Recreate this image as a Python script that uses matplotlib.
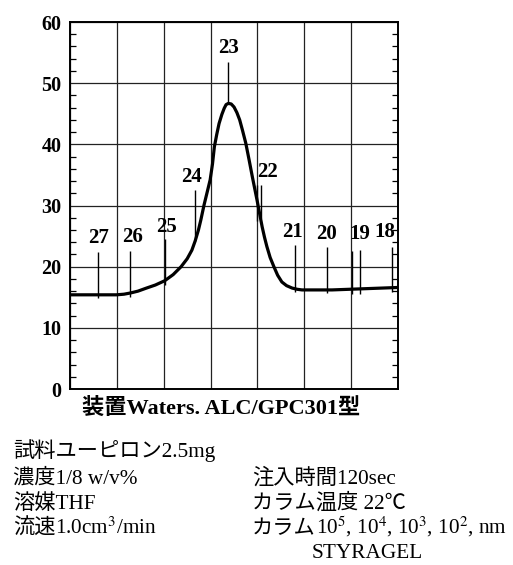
import matplotlib
matplotlib.use("Agg")
import matplotlib.pyplot as plt
from matplotlib.ticker import MultipleLocator

# GPC trace (x in chart-grid units, y = detector signal)
trace_x = [0.0, 0.99, 1.15, 1.29, 1.45, 1.63, 1.82, 2.02, 2.20, 2.37, 2.50, 2.60,
           2.67, 2.74, 2.79, 2.86, 2.93, 2.99, 3.04, 3.08, 3.13, 3.18, 3.24, 3.29,
           3.33, 3.38, 3.44, 3.50, 3.56, 3.62, 3.68, 3.75, 3.82, 3.89, 3.94, 3.99,
           4.05, 4.10, 4.15, 4.20, 4.27, 4.35, 4.43, 4.52, 4.62, 4.74, 4.85, 4.95,
           5.59, 7.0]
trace_y = [15.4, 15.4, 15.5, 15.7, 16.0, 16.5, 17.0, 17.7, 18.7, 20.0, 21.3, 22.7,
           24.2, 26.0, 27.6, 30.1, 32.3, 34.2, 36.8, 39.6, 41.6, 43.4, 44.9, 45.9,
           46.5, 46.7, 46.6, 46.1, 45.2, 44.0, 42.3, 40.2, 37.5, 34.7, 32.8, 30.9,
           28.5, 26.5, 24.8, 23.3, 21.5, 20.0, 18.6, 17.5, 16.9, 16.5, 16.3, 16.2,
           16.2, 16.6]

# elution count marks
count_labels = ["27", "26", "25", "24", "23", "22", "21", "20", "19", "18"]
count_x = [0.60, 1.29, 2.02, 2.67, 3.38, 3.99, 4.79, 5.49, 6.02, 6.88]
count_top = [22.4, 22.6, 24.5, 32.5, 53.5, 33.3, 23.5, 23.2, 22.6, 23.2]
count_bottom = [14.9, 15.1, 17.0, 24.2, 46.7, 27.5, 15.8, 15.7, 15.6, 15.9]
label_x = [0.60, 1.34, 2.05, 2.60, 3.38, 4.21, 4.74, 5.48, 6.19, 6.72]
label_y = [24.7, 24.9, 26.5, 34.7, 55.8, 35.5, 25.6, 25.3, 25.3, 25.7]
# second tick beside 22 and 19
extra_x = [4.08, 6.19]
extra_top = [33.3, 22.8]
extra_bottom = [28.0, 15.5]

serif_jp = ["Liberation Serif", "Noto Sans CJK JP"]
plt.rcParams["mathtext.fontset"] = "stix"

fig = plt.figure(figsize=(5.13, 5.65), dpi=100)
ax = fig.add_axes([0.1365, 0.3115, 0.6395, 0.6495])

ax.set_xlim(0, 7)
ax.set_ylim(0, 60)
ax.xaxis.set_major_locator(MultipleLocator(1))
ax.yaxis.set_major_locator(MultipleLocator(10))
ax.yaxis.set_minor_locator(MultipleLocator(2))
ax.grid(True, which="major", color="#222222", lw=0.9)
ax.tick_params(axis="x", which="both", length=0, labelbottom=False)
ax.tick_params(axis="y", which="major", length=0, pad=6)
ax.tick_params(axis="y", which="minor", direction="in", length=4, width=0.9,
               left=True, right=True)
for lbl in ax.get_yticklabels():
    lbl.set_fontfamily("Liberation Serif")
    lbl.set_fontweight("bold")
    lbl.set_fontsize(14.5)
for sp in ax.spines.values():
    sp.set_linewidth(1.4)
    sp.set_color("black")

ax.plot(trace_x, trace_y, color="black", lw=2.3, solid_capstyle="round",
        solid_joinstyle="round", zorder=3)

ax.vlines(count_x, count_bottom, count_top, color="black", lw=1.0, zorder=4)
ax.vlines(extra_x, extra_bottom, extra_top, color="black", lw=1.0, zorder=4)
for t, lx, ly in zip(count_labels, label_x, label_y):
    ax.text(lx, ly, t, ha="center", va="center", fontsize=15, fontweight="bold",
            family="Liberation Serif", zorder=5)

fig.text(0.431, 0.278, "装置Waters. ALC/GPC301型", ha="center", va="center",
         fontsize=16, fontweight="bold", family=serif_jp)

renderer = fig.canvas.get_renderer()


def line_of_text(x, y, parts, size=15.3):
    # draw a row piece by piece so CJK text and mathtext superscripts can mix
    for part in parts:
        t = fig.text(x, y, part, ha="left", va="baseline", fontsize=size,
                     family=serif_jp)
        bb = t.get_window_extent(renderer=renderer)
        x += bb.width / fig.bbox.width


left_lines = [["試料ユーピロン2.5mg"], ["濃度1/8 w/v%"], ["溶媒THF"],
              ["流速", "1.0cm$^{3}$/min"]]
left_y = [0.192, 0.144, 0.099, 0.055]
for parts, y in zip(left_lines, left_y):
    line_of_text(0.025, y, parts)

right_lines = [["注入時間120sec"], ["カラム温度 22℃"],
               ["カラム", "10$^{5}$, 10$^{4}$, 10$^{3}$, 10$^{2}$, nm"]]
right_y = [0.144, 0.099, 0.055]
for parts, y in zip(right_lines, right_y):
    line_of_text(0.491, y, parts)
line_of_text(0.608, 0.013, ["STYRAGEL"])

fig.savefig("out.png", dpi=100)
